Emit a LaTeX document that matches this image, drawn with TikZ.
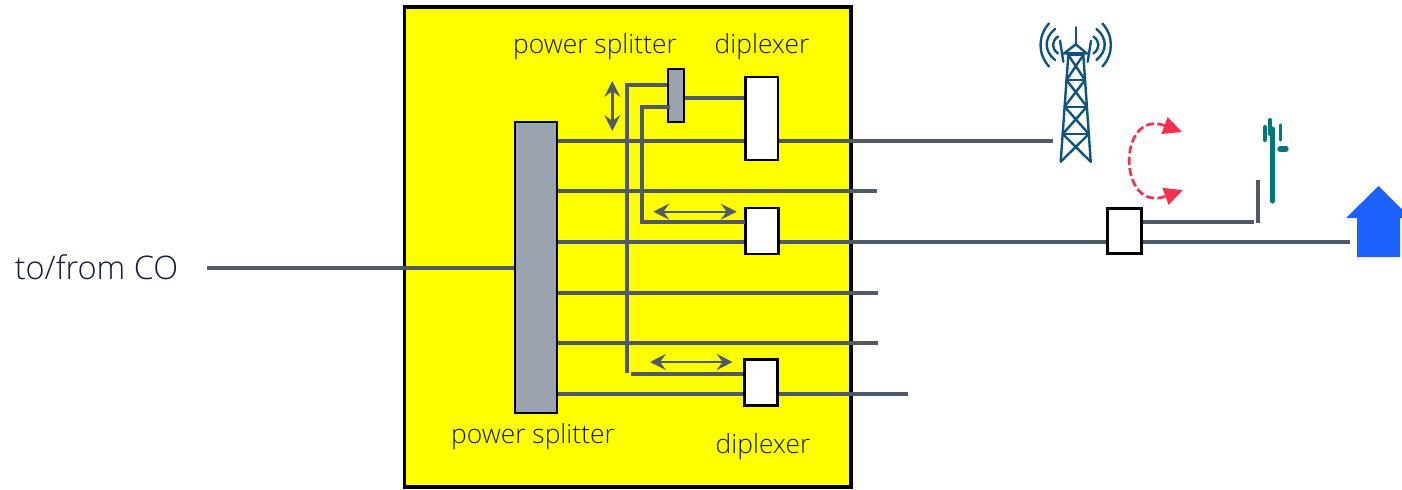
\documentclass[tikz,border=0pt]{standalone}
\usepackage{fontspec}
\setmainfont{Open Sans}[UprightFont=* Light]
\usetikzlibrary{arrows.meta,positioning}
\definecolor{linegray}{HTML}{505967}
\definecolor{splitgray}{HTML}{9AA3AE}
\definecolor{labelnavy}{HTML}{141D38}
\definecolor{towerblue}{HTML}{0F5480}
\definecolor{antteal}{HTML}{00777A}
\definecolor{housblue}{HTML}{1C62FF}
\definecolor{swapred}{HTML}{F5304F}
\definecolor{cabyellow}{RGB}{255,255,0}
\pgfdeclarelayer{back}
\pgfdeclarelayer{lines}
\pgfsetlayers{back,lines,main}

\begin{document}
\begin{tikzpicture}[x=0.75pt,y=-0.75pt,>={Stealth[length=12pt,width=12pt,inset=4.5pt]}]
	\tikzstyle{every node}=[inner sep=0pt,outer sep=0pt]
	\tikzstyle{label}=[text=labelnavy,font=\fontsize{19.8}{22}\selectfont]
	\tikzstyle{unit}=[draw=black,fill=white,line width=2pt]
	\tikzstyle{splitter}=[draw=black,fill=splitgray,line width=1.5pt]
	\tikzstyle{line}=[draw=linegray,line width=3.2pt]
	\tikzstyle{thinarrow}=[draw=linegray,fill=linegray,line width=1.7pt,<->]
	\tikzstyle{tower}=[draw=towerblue,line width=1.8pt,line cap=round]
	\tikzstyle{ant}=[draw=antteal,line cap=round]

	\useasboundingbox (0,0) rectangle (1402,489);

	\begin{pgfonlayer}{back}
		\node[draw=black,fill=cabyellow,line width=2.8pt,minimum width=335pt,minimum height=360.4pt] (cabinet) at (627.8,247) {};
	\end{pgfonlayer}

	\node[splitter,minimum width=31.3pt,minimum height=218.25pt] (bigsplit) at (535.85,267.2) {};
	\node[splitter,minimum width=12.2pt,minimum height=40.2pt] (smallsplit) at (675.85,95.5) {};
	\node[unit,minimum width=24.4pt,minimum height=62.25pt] (diptop) at (761.75,118.5) {};
	\node[unit,minimum width=25pt,minimum height=34.5pt] (dipmid) at (762,231) {};
	\node[unit,minimum width=25pt,minimum height=34.5pt] (dipbot) at (761,382.3) {};
	\node[unit,minimum width=25.5pt,minimum height=34pt] (sitebox) at (1124.7,231) {};

	\node[label,font=\fontsize{24.4}{26}\selectfont] (cotext) at (96.5,267) {to/from CO};
	\node[label] (smalltext) at (595,47) {power splitter};
	\node[label] (toptext) at (762,47) {diplexer};
	\node[label] (bigtext) at (533,437) {power splitter};
	\node[label] (bottext) at (763,447) {diplexer};

	\coordinate (cofree) at (207,268);
	\coordinate (towerend) at (1053,141);
	\coordinate (end2) at (877,191);
	\coordinate (end4) at (878,293);
	\coordinate (end5) at (878,343);
	\coordinate (end6) at (908,394);
	\coordinate (housend) at (1350,242);
	\coordinate (bendt) at (627,85);
	\coordinate (bendc) at (627,373);
	\coordinate (stubb) at (670,107);
	\coordinate (bendb) at (642.3,222.3);
	\coordinate (stubc) at (631,374);
	\coordinate (antbend) at (1254,222);
	\coordinate (polea) at (1258,180);
	\coordinate (poleb) at (1258,223);

	\begin{pgfonlayer}{lines}
		\draw[line] (cofree) -- (bigsplit.west |- cofree);
		\foreach \free in {towerend,end2,housend,end4,end5,end6}
			\draw[line] (bigsplit.east |- \free) -- (\free);
		\draw[line] (smallsplit.west |- bendt) -- (bendt) -- (bendc);
		\draw[line] (stubc) -- (dipbot.west |- stubc);
		\draw[line] (smallsplit.east |- 0,97.7) -- (diptop.west |- 0,97.7);
		\draw[line] (sitebox.east |- antbend) -- (antbend);
		\draw[line] (polea) -- (poleb);
	\end{pgfonlayer}
	\draw[line] (stubb) -| (bendb) -- (dipmid.west |- bendb);

	\coordinate (vtop) at (612.3,81);
	\coordinate (vbot) at (612.3,131);
	\coordinate (mida) at (653.3,211.7);
	\coordinate (midb) at (736.7,211.7);
	\coordinate (bota) at (650,362);
	\coordinate (botb) at (732.7,362);
	\draw[thinarrow,line width=2.4pt] (vtop) -- (vbot);
	\draw[thinarrow] (mida) -- (midb);
	\draw[thinarrow] (bota) -- (botb);

	% tower
	\draw[tower] (1075.7,27.3) -- (1075.7,44.3);
	\draw[tower] (1064.3,53.3) -- (1075.7,44.3) -- (1086.7,53.3) -- cycle;
	\draw[tower] (1060,40.7) -- (1063.3,61.7);
	\draw[tower] (1091,40.7) -- (1087.7,61.7);
	\draw[tower] (1068.3,55) -- (1060.7,161.7);
	\draw[tower] (1083.3,55) -- (1090.7,161.7);
	\foreach \la/\ra/\ya/\lb/\rb/\yb in {1068.3/1083.3/55/1066.5/1085/80,1066.5/1085/80/1064.6/1086.9/106.7,1064.6/1086.9/106.7/1062.7/1088.8/134,1062.7/1088.8/134/1060.7/1090.7/161.7}{
		\draw[tower] (\la,\ya) -- (\rb,\yb);
		\draw[tower] (\ra,\ya) -- (\lb,\yb);
		\draw[tower] (\la,\ya) -- (\ra,\ya);
	}
	\foreach \ex/\cx/\ya/\yc/\yd/\yb in {1049/1037.7/23.5/36/54/66.5,1055/1043.9/29/38/51/60,1058/1051.3/36.5/41.5/48.5/53.5}{
		\draw[tower] (\ex,\ya) .. controls (\cx,\yc) and (\cx,\yd) .. (\ex,\yb);
		\draw[tower] ({2151.4-\ex},\ya) .. controls ({2151.4-\cx},\yc) and ({2151.4-\cx},\yd) .. ({2151.4-\ex},\yb);
	}

	% small antenna
	\draw[ant,line width=3.8pt] (1272.7,129) -- (1272.7,201);
	\draw[ant,line width=3pt] (1270,120) -- (1270,134);
	\draw[ant,line width=3pt] (1265,127) -- (1265,140);
	\draw[ant,line width=2.4pt] (1280.3,125) -- (1280.3,140);
	\draw[ant,line width=4pt] (1280,149) -- (1286,149);

	% swap arrows
	\coordinate (swapa) at (1182,132);
	\coordinate (swapb) at (1183,190);
	\draw[swapred,line width=2pt,dash pattern=on 6pt off 2.5pt,{Triangle[length=14pt,width=13pt,fill=swapred]}-{Triangle[length=14pt,width=13pt,fill=swapred]}]
		(swapa) .. controls (1117,108) and (1117,214) .. (swapb);

	% house
	\fill[housblue] (1378.5,186) -- (1402,209.5) -- (1402,218) -- (1400,218) -- (1400,257) -- (1357,257) -- (1357,218) -- (1346,218) -- cycle;
\end{tikzpicture}
\end{document}
